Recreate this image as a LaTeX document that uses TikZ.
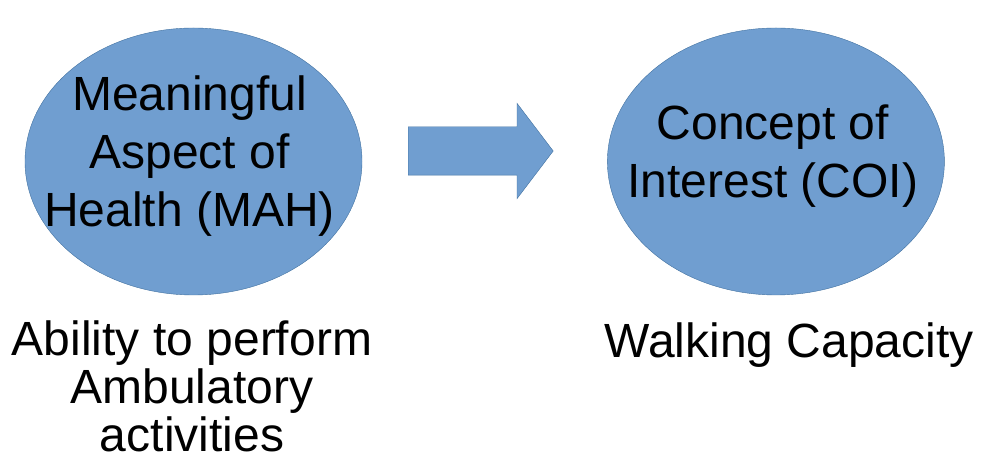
\documentclass[tikz,border=0pt]{standalone}
\usepackage{fontspec}
\setmainfont{Liberation Sans}
\usetikzlibrary{shapes.geometric, shapes.arrows, positioning}
\definecolor{bubblefill}{RGB}{112,158,208}
\definecolor{bubbleline}{RGB}{65,113,160}
\newcommand{\tightlines}{\setlength{\lineskiplimit}{-100pt}}

\begin{document}
\begin{tikzpicture}[x=1pt, y=1pt,
    bubble/.style={ellipse, draw=bubbleline, fill=bubblefill, minimum width=337pt, minimum height=267pt, inner sep=0pt},
    title/.style={align=center, inner sep=0pt, font=\fontsize{48}{58}\selectfont},
    caption/.style={align=center, inner sep=0pt, font=\fontsize{48}{48}\selectfont\tightlines}]
    \useasboundingbox (0,0) rectangle (983,473);
    \node[bubble] (mah) at (193.5,311.5) {};
    \node[bubble, right = 245pt of mah] (coi) {};
    \node[title] (mah-title) at ([xshift=-4pt, yshift=5pt]mah.center) {Meaningful\\Aspect of\\Health (MAH)};
    \node[title] (coi-title) at ([xshift=-3pt, yshift=5pt]coi.center) {Concept of\\Interest (COI)};
    \node[single arrow, draw=bubbleline, fill=bubblefill, minimum height=145pt, minimum width=95pt, single arrow head extend=23.5pt, single arrow tip angle=105.6, inner sep=0pt, inner ysep=24pt, anchor=tail] (link) at (408,322) {};
    \node[caption, anchor=north] (mah-text) at (192,152) {Ability to perform\\Ambulatory\\activities};
    \node[caption, anchor=north] (coi-text) at (789,150) {Walking Capacity};
\end{tikzpicture}
\end{document}
